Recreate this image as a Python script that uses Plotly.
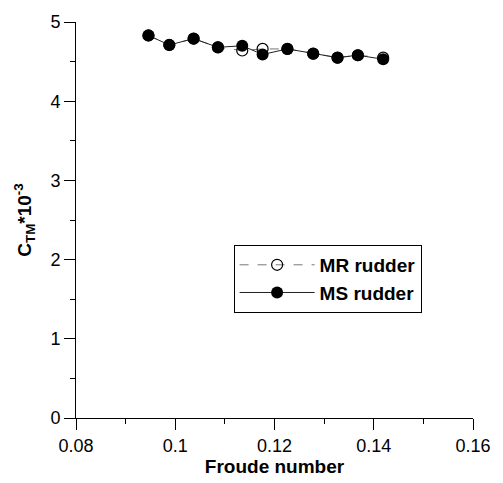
import plotly.graph_objects as go

froude = [0.0946, 0.0988, 0.1037, 0.1086, 0.1135, 0.1176, 0.1226, 0.1278, 0.1327, 0.1368, 0.1419]
ctm_ms = [4.83, 4.71, 4.79, 4.68, 4.70, 4.59, 4.66, 4.60, 4.55, 4.58, 4.53]
ctm_mr = [4.83, 4.71, 4.79, 4.68, 4.64, 4.66, 4.66, 4.60, 4.55, 4.58, 4.55]

x_ticks = [0.08, 0.10, 0.12, 0.14, 0.16]
x_ticklabels = ["0.08", "0.1", "0.12", "0.14", "0.16"]
y_ticks = [0, 1, 2, 3, 4, 5]

FONT = "Liberation Sans, Arial, sans-serif"

fig = go.Figure()
fig.add_trace(go.Scatter(
    x=froude, y=ctm_mr, name="<b>MR rudder</b>", mode="lines+markers",
    line=dict(color="#777777", width=1, dash="dash"),
    marker=dict(symbol="circle-open", size=11, color="black", line=dict(width=1.2, color="black")),
))
fig.add_trace(go.Scatter(
    x=froude, y=ctm_ms, name="<b>MS rudder</b>", mode="lines+markers",
    line=dict(color="#222222", width=1),
    marker=dict(symbol="circle", size=12, color="black"),
))

fig.update_layout(
    width=503, height=483,
    margin=dict(l=76, r=19, t=19, b=59),
    paper_bgcolor="white", plot_bgcolor="white",
    font=dict(family=FONT, size=17, color="black"),
    showlegend=True,
    legend=dict(
        x=0.397, y=0.437, xanchor="left", yanchor="top",
        bordercolor="black", borderwidth=1, bgcolor="white",
        font=dict(family=FONT, size=19, color="black"),
        tracegroupgap=0, itemwidth=75,
    ),
    xaxis=dict(
        range=[0.08, 0.16], tickvals=x_ticks, ticktext=x_ticklabels,
        showline=True, linecolor="black", linewidth=1,
        ticks="outside", ticklen=11, tickcolor="black", tickwidth=1,
        minor=dict(dtick=0.01, tick0=0.08, ticks="outside", ticklen=5, tickcolor="black"),
        showgrid=False, zeroline=False,
        title=dict(text="<b>Froude number</b>", standoff=2, font=dict(size=19)),
        tickfont=dict(size=18),
    ),
    yaxis=dict(
        range=[0, 5], tickvals=y_ticks,
        showline=True, linecolor="black", linewidth=1,
        ticks="outside", ticklen=11, tickcolor="black", tickwidth=1,
        minor=dict(dtick=0.5, tick0=0, ticks="outside", ticklen=5, tickcolor="black"),
        showgrid=False, zeroline=False,
        title=dict(text="<b>C<sub>TM</sub>*10<sup>-3</sup></b>", standoff=13, font=dict(size=19)),
        tickfont=dict(size=18),
    ),
)

fig.write_html(
    "out.html",
    config={"displayModeBar": False},
    post_script="document.body.style.margin='0';document.body.style.overflow='hidden';",
)
